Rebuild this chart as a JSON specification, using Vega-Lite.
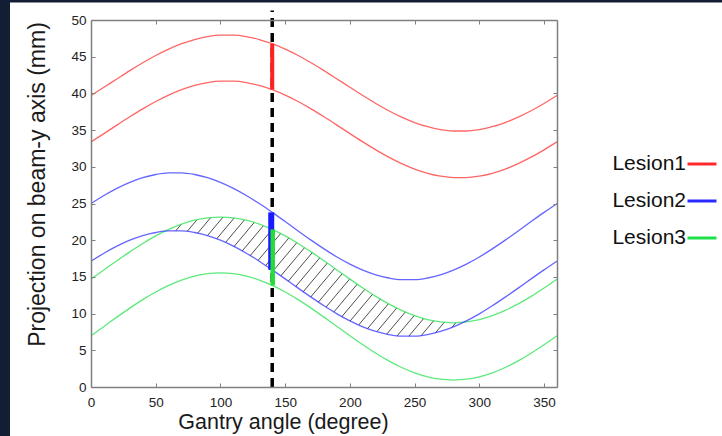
{
  "$schema": "https://vega.github.io/schema/vega-lite/v6.json",
  "width": 466,
  "height": 367,
  "autosize": {"type": "none"},
  "padding": {"left": 91, "top": 20, "right": 165, "bottom": 49},
  "background": "#131d33",
  "datasets": {
    "proj": [
      {"angle": 0, "edge": "upper", "Lesion1": 39.71, "Lesion2": 24.99, "Lesion3": 14.70},
      {"angle": 0, "edge": "lower", "Lesion1": 33.39, "Lesion2": 17.14, "Lesion3": 6.98},
      {"angle": 10, "edge": "upper", "Lesion1": 40.83, "Lesion2": 26.09, "Lesion3": 15.95},
      {"angle": 10, "edge": "lower", "Lesion1": 34.52, "Lesion2": 18.23, "Lesion3": 8.25},
      {"angle": 20, "edge": "upper", "Lesion1": 41.97, "Lesion2": 27.06, "Lesion3": 17.20},
      {"angle": 20, "edge": "lower", "Lesion1": 35.68, "Lesion2": 19.19, "Lesion3": 9.52},
      {"angle": 30, "edge": "upper", "Lesion1": 43.10, "Lesion2": 27.88, "Lesion3": 18.41},
      {"angle": 30, "edge": "lower", "Lesion1": 36.81, "Lesion2": 20.00, "Lesion3": 10.75},
      {"angle": 40, "edge": "upper", "Lesion1": 44.17, "Lesion2": 28.52, "Lesion3": 19.55},
      {"angle": 40, "edge": "lower", "Lesion1": 37.89, "Lesion2": 20.63, "Lesion3": 11.90},
      {"angle": 50, "edge": "upper", "Lesion1": 45.16, "Lesion2": 28.95, "Lesion3": 20.58},
      {"angle": 50, "edge": "lower", "Lesion1": 38.89, "Lesion2": 21.05, "Lesion3": 12.94},
      {"angle": 60, "edge": "upper", "Lesion1": 46.03, "Lesion2": 29.17, "Lesion3": 21.47},
      {"angle": 60, "edge": "lower", "Lesion1": 39.77, "Lesion2": 21.27, "Lesion3": 13.84},
      {"angle": 70, "edge": "upper", "Lesion1": 46.77, "Lesion2": 29.17, "Lesion3": 22.19},
      {"angle": 70, "edge": "lower", "Lesion1": 40.51, "Lesion2": 21.27, "Lesion3": 14.57},
      {"angle": 80, "edge": "upper", "Lesion1": 47.34, "Lesion2": 28.95, "Lesion3": 22.72},
      {"angle": 80, "edge": "lower", "Lesion1": 41.08, "Lesion2": 21.05, "Lesion3": 15.11},
      {"angle": 90, "edge": "upper", "Lesion1": 47.73, "Lesion2": 28.52, "Lesion3": 23.04},
      {"angle": 90, "edge": "lower", "Lesion1": 41.48, "Lesion2": 20.63, "Lesion3": 15.44},
      {"angle": 100, "edge": "upper", "Lesion1": 47.93, "Lesion2": 27.88, "Lesion3": 23.15},
      {"angle": 100, "edge": "lower", "Lesion1": 41.68, "Lesion2": 20.00, "Lesion3": 15.55},
      {"angle": 110, "edge": "upper", "Lesion1": 47.93, "Lesion2": 27.06, "Lesion3": 23.04},
      {"angle": 110, "edge": "lower", "Lesion1": 41.68, "Lesion2": 19.19, "Lesion3": 15.44},
      {"angle": 120, "edge": "upper", "Lesion1": 47.73, "Lesion2": 26.09, "Lesion3": 22.72},
      {"angle": 120, "edge": "lower", "Lesion1": 41.48, "Lesion2": 18.23, "Lesion3": 15.11},
      {"angle": 130, "edge": "upper", "Lesion1": 47.34, "Lesion2": 24.99, "Lesion3": 22.19},
      {"angle": 130, "edge": "lower", "Lesion1": 41.08, "Lesion2": 17.14, "Lesion3": 14.57},
      {"angle": 140, "edge": "upper", "Lesion1": 46.77, "Lesion2": 23.79, "Lesion3": 21.47},
      {"angle": 140, "edge": "lower", "Lesion1": 40.51, "Lesion2": 15.96, "Lesion3": 13.84},
      {"angle": 150, "edge": "upper", "Lesion1": 46.03, "Lesion2": 22.54, "Lesion3": 20.58},
      {"angle": 150, "edge": "lower", "Lesion1": 39.77, "Lesion2": 14.73, "Lesion3": 12.94},
      {"angle": 160, "edge": "upper", "Lesion1": 45.16, "Lesion2": 21.26, "Lesion3": 19.55},
      {"angle": 160, "edge": "lower", "Lesion1": 38.89, "Lesion2": 13.47, "Lesion3": 11.90},
      {"angle": 170, "edge": "upper", "Lesion1": 44.17, "Lesion2": 20.01, "Lesion3": 18.41},
      {"angle": 170, "edge": "lower", "Lesion1": 37.89, "Lesion2": 12.24, "Lesion3": 10.75},
      {"angle": 180, "edge": "upper", "Lesion1": 43.10, "Lesion2": 18.82, "Lesion3": 17.20},
      {"angle": 180, "edge": "lower", "Lesion1": 36.81, "Lesion2": 11.06, "Lesion3": 9.52},
      {"angle": 190, "edge": "upper", "Lesion1": 41.97, "Lesion2": 17.71, "Lesion3": 15.95},
      {"angle": 190, "edge": "lower", "Lesion1": 35.68, "Lesion2": 9.97, "Lesion3": 8.25},
      {"angle": 200, "edge": "upper", "Lesion1": 40.83, "Lesion2": 16.74, "Lesion3": 14.70},
      {"angle": 200, "edge": "lower", "Lesion1": 34.52, "Lesion2": 9.01, "Lesion3": 6.98},
      {"angle": 210, "edge": "upper", "Lesion1": 39.71, "Lesion2": 15.92, "Lesion3": 13.49},
      {"angle": 210, "edge": "lower", "Lesion1": 33.39, "Lesion2": 8.20, "Lesion3": 5.75},
      {"angle": 220, "edge": "upper", "Lesion1": 38.63, "Lesion2": 15.28, "Lesion3": 12.35},
      {"angle": 220, "edge": "lower", "Lesion1": 32.31, "Lesion2": 7.58, "Lesion3": 4.60},
      {"angle": 230, "edge": "upper", "Lesion1": 37.64, "Lesion2": 14.85, "Lesion3": 11.32},
      {"angle": 230, "edge": "lower", "Lesion1": 31.31, "Lesion2": 7.15, "Lesion3": 3.56},
      {"angle": 240, "edge": "upper", "Lesion1": 36.77, "Lesion2": 14.63, "Lesion3": 10.44},
      {"angle": 240, "edge": "lower", "Lesion1": 30.43, "Lesion2": 6.93, "Lesion3": 2.66},
      {"angle": 250, "edge": "upper", "Lesion1": 36.03, "Lesion2": 14.63, "Lesion3": 9.72},
      {"angle": 250, "edge": "lower", "Lesion1": 29.69, "Lesion2": 6.93, "Lesion3": 1.93},
      {"angle": 260, "edge": "upper", "Lesion1": 35.46, "Lesion2": 14.85, "Lesion3": 9.18},
      {"angle": 260, "edge": "lower", "Lesion1": 29.12, "Lesion2": 7.15, "Lesion3": 1.39},
      {"angle": 270, "edge": "upper", "Lesion1": 35.07, "Lesion2": 15.28, "Lesion3": 8.86},
      {"angle": 270, "edge": "lower", "Lesion1": 28.73, "Lesion2": 7.58, "Lesion3": 1.06},
      {"angle": 280, "edge": "upper", "Lesion1": 34.88, "Lesion2": 15.92, "Lesion3": 8.75},
      {"angle": 280, "edge": "lower", "Lesion1": 28.53, "Lesion2": 8.20, "Lesion3": 0.95},
      {"angle": 290, "edge": "upper", "Lesion1": 34.88, "Lesion2": 16.74, "Lesion3": 8.86},
      {"angle": 290, "edge": "lower", "Lesion1": 28.53, "Lesion2": 9.01, "Lesion3": 1.06},
      {"angle": 300, "edge": "upper", "Lesion1": 35.07, "Lesion2": 17.71, "Lesion3": 9.18},
      {"angle": 300, "edge": "lower", "Lesion1": 28.73, "Lesion2": 9.97, "Lesion3": 1.39},
      {"angle": 310, "edge": "upper", "Lesion1": 35.46, "Lesion2": 18.82, "Lesion3": 9.72},
      {"angle": 310, "edge": "lower", "Lesion1": 29.12, "Lesion2": 11.06, "Lesion3": 1.93},
      {"angle": 320, "edge": "upper", "Lesion1": 36.03, "Lesion2": 20.01, "Lesion3": 10.44},
      {"angle": 320, "edge": "lower", "Lesion1": 29.69, "Lesion2": 12.24, "Lesion3": 2.66},
      {"angle": 330, "edge": "upper", "Lesion1": 36.77, "Lesion2": 21.26, "Lesion3": 11.32},
      {"angle": 330, "edge": "lower", "Lesion1": 30.43, "Lesion2": 13.47, "Lesion3": 3.56},
      {"angle": 340, "edge": "upper", "Lesion1": 37.64, "Lesion2": 22.54, "Lesion3": 12.35},
      {"angle": 340, "edge": "lower", "Lesion1": 31.31, "Lesion2": 14.73, "Lesion3": 4.60},
      {"angle": 350, "edge": "upper", "Lesion1": 38.63, "Lesion2": 23.79, "Lesion3": 13.49},
      {"angle": 350, "edge": "lower", "Lesion1": 32.31, "Lesion2": 15.96, "Lesion3": 5.75},
      {"angle": 360, "edge": "upper", "Lesion1": 39.71, "Lesion2": 24.99, "Lesion3": 14.70},
      {"angle": 360, "edge": "lower", "Lesion1": 33.39, "Lesion2": 17.14, "Lesion3": 6.98}
    ],
    "hatch": [
      {"hx": -26, "hx2": 74}, {"hx": -16.8, "hx2": 83.2}, {"hx": -7.6, "hx2": 92.4},
      {"hx": 1.6, "hx2": 101.6}, {"hx": 10.8, "hx2": 110.8}, {"hx": 20, "hx2": 120},
      {"hx": 29.2, "hx2": 129.2}, {"hx": 38.4, "hx2": 138.4}, {"hx": 47.6, "hx2": 147.6},
      {"hx": 56.8, "hx2": 156.8}, {"hx": 66, "hx2": 166}, {"hx": 75.2, "hx2": 175.2},
      {"hx": 84.4, "hx2": 184.4}, {"hx": 93.6, "hx2": 193.6}, {"hx": 102.8, "hx2": 202.8},
      {"hx": 112, "hx2": 212}, {"hx": 121.2, "hx2": 221.2}, {"hx": 130.4, "hx2": 230.4},
      {"hx": 139.6, "hx2": 239.6}, {"hx": 148.8, "hx2": 248.8}, {"hx": 158, "hx2": 258},
      {"hx": 167.2, "hx2": 267.2}, {"hx": 176.4, "hx2": 276.4}, {"hx": 185.6, "hx2": 285.6},
      {"hx": 194.8, "hx2": 294.8}, {"hx": 204, "hx2": 304}, {"hx": 213.2, "hx2": 313.2},
      {"hx": 222.4, "hx2": 322.4}, {"hx": 231.6, "hx2": 331.6}, {"hx": 240.8, "hx2": 340.8},
      {"hx": 250, "hx2": 350}, {"hx": 259.2, "hx2": 359.2}, {"hx": 268.4, "hx2": 368.4}
    ]
  },
  "resolve": {"axis": {"x": "independent", "y": "independent"}},
  "layer": [
    {
      "description": "white panel behind the axes",
      "data": {"values": [{}]},
      "mark": {"type": "rect", "fill": "white"},
      "encoding": {
        "x": {"datum": -62.58, "type": "quantitative", "axis": null, "scale": {"domain": [0, 360], "nice": false, "zero": false}},
        "x2": {"datum": 487.5},
        "y": {"datum": 52.38, "type": "quantitative", "axis": null, "scale": {"domain": [0, 50], "nice": false}},
        "y2": {"datum": -6.68}
      }
    },
    {
      "description": "hatch strokes, trimmed by the two white masks below",
      "data": {"name": "hatch"},
      "mark": {"type": "rule", "clip": true, "stroke": "#3a3a3a", "strokeWidth": 0.9},
      "encoding": {
        "x": {"field": "hx", "type": "quantitative", "axis": null},
        "x2": {"field": "hx2"},
        "y": {"datum": 4, "type": "quantitative", "axis": null},
        "y2": {"datum": 25}
      }
    },
    {
      "data": {"name": "proj"},
      "transform": [{"filter": "datum.edge === 'upper'"}],
      "mark": {"type": "area", "fill": "white", "interpolate": "monotone"},
      "encoding": {
        "x": {"field": "angle", "type": "quantitative", "axis": null},
        "y": {"field": "Lesion3", "type": "quantitative", "axis": null},
        "y2": {"datum": 50}
      }
    },
    {
      "data": {"name": "proj"},
      "transform": [{"filter": "datum.edge === 'lower'"}],
      "mark": {"type": "area", "fill": "white", "interpolate": "monotone"},
      "encoding": {
        "x": {"field": "angle", "type": "quantitative", "axis": null},
        "y": {"field": "Lesion2", "type": "quantitative", "axis": null},
        "y2": {"datum": 0}
      }
    },
    {
      "data": {"name": "proj"},
      "transform": [{"fold": ["Lesion1", "Lesion2", "Lesion3"], "as": ["lesion", "proj"]}],
      "mark": {"type": "line", "strokeWidth": 1.3, "strokeOpacity": 0.72, "interpolate": "monotone"},
      "encoding": {
        "x": {
          "field": "angle", "type": "quantitative",
          "axis": {
            "orient": "bottom", "zindex": 1, "values": [0, 50, 100, 150, 200, 250, 300, 350],
            "title": "Gantry angle (degree)", "titleX": 192, "titleY": 41,
            "titleAlign": "center", "titleBaseline": "alphabetic",
            "labelPadding": 12, "labelFlush": false, "labelOverlap": false
          }
        },
        "y": {
          "field": "proj", "type": "quantitative",
          "axis": {
            "orient": "left", "zindex": 1, "values": [0, 5, 10, 15, 20, 25, 30, 35, 40, 45, 50],
            "title": "Projection on beam-y axis (mm)", "titleX": -47, "titleY": 164,
            "titleFontSize": 23,
            "titleAngle": 270, "titleAlign": "center", "titleBaseline": "alphabetic",
            "labelPadding": 9, "labelOverlap": false
          }
        },
        "color": {
          "field": "lesion", "type": "nominal",
          "scale": {"domain": ["Lesion1", "Lesion2", "Lesion3"], "range": ["#ff2a2a", "#2a2aff", "#1ee04a"]},
          "legend": {
            "orient": "none", "legendX": 595, "legendY": 128, "title": null,
            "symbolType": "stroke", "symbolSize": 841, "symbolStrokeWidth": 3, "symbolOpacity": 1,
            "labelAlign": "right", "labelOffset": -32, "labelBaseline": "middle",
            "labelFont": "Liberation Sans", "labelFontSize": 21, "labelColor": "#111111",
            "rowPadding": 11, "padding": 0
          }
        },
        "detail": {"field": "edge"}
      }
    },
    {
      "description": "gantry angle marker",
      "data": {"values": [{"angle": 140}]},
      "mark": {"type": "rule", "stroke": "black", "strokeWidth": 3.5, "strokeDash": [9, 6]},
      "encoding": {
        "x": {"field": "angle", "type": "quantitative", "axis": null},
        "y": {"datum": 0, "type": "quantitative", "axis": null},
        "y2": {"datum": 51.3}
      }
    },
    {
      "data": {"values": [{"angle": 140, "low": 15.96, "high": 23.79}]},
      "mark": {"type": "rule", "stroke": "#1a1aff", "strokeWidth": 6, "xOffset": -1},
      "encoding": {
        "x": {"field": "angle", "type": "quantitative", "axis": null},
        "y": {"field": "low", "type": "quantitative", "axis": null},
        "y2": {"field": "high"}
      }
    },
    {
      "data": {"values": [{"angle": 140, "low": 13.84, "high": 21.47}]},
      "mark": {"type": "rule", "stroke": "#22dd3a", "strokeWidth": 4.5, "xOffset": 0.5},
      "encoding": {
        "x": {"field": "angle", "type": "quantitative", "axis": null},
        "y": {"field": "low", "type": "quantitative", "axis": null},
        "y2": {"field": "high"}
      }
    },
    {
      "data": {"values": [{"angle": 140, "low": 40.51, "high": 46.77}]},
      "mark": {"type": "rule", "stroke": "#ff2020", "strokeWidth": 4},
      "encoding": {
        "x": {
          "field": "angle", "type": "quantitative",
          "axis": {"orient": "top", "zindex": 1, "values": [50, 100, 150, 200, 250, 300, 350], "labels": false, "title": null}
        },
        "y": {
          "field": "low", "type": "quantitative",
          "axis": {"orient": "right", "zindex": 1, "values": [5, 10, 15, 20, 25, 30, 35, 40, 45], "labels": false, "title": null}
        },
        "y2": {"field": "high"}
      }
    }
  ],
  "config": {
    "view": {"stroke": null},
    "font": "Liberation Sans",
    "axis": {
      "grid": false,
      "domainColor": "#7f7f7f", "domainWidth": 1.5,
      "tickColor": "#7f7f7f", "tickWidth": 1, "tickSize": -4,
      "labelFont": "Liberation Sans", "labelFontSize": 13.5, "labelColor": "#222222",
      "titleFont": "Liberation Sans", "titleFontSize": 21.5, "titleFontWeight": "normal", "titleColor": "#1a1a1a"
    }
  }
}
